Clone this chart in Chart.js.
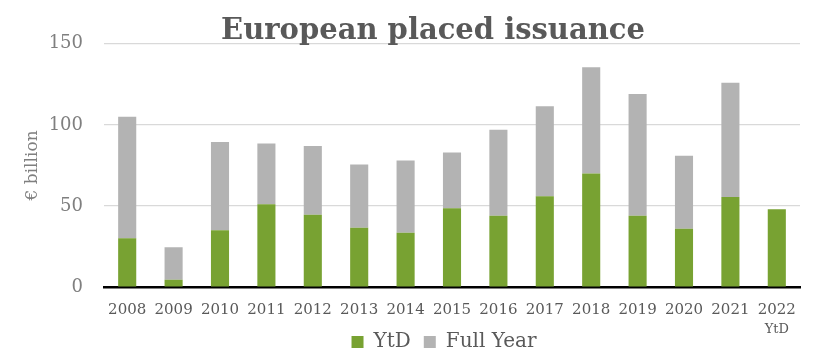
<!DOCTYPE html>
<html>
<head>
<meta charset="utf-8">
<script src="https://cdn.jsdelivr.net/npm/chart.js@4"></script>
<style>
  html, body { margin: 0; padding: 0; background: #fff; }
  #wrap { width: 824px; height: 363px; }
</style>
</head>
<body>
<div id="wrap"><canvas id="chart"></canvas></div>
<script>
const years = ["2008", "2009", "2010", "2011", "2012", "2013", "2014", "2015",
  "2016", "2017", "2018", "2019", "2020", "2021", "2022"];
const ytd = [30, 4.5, 35, 51, 44.5, 36.5, 33.5, 48.5, 44, 56, 70, 44, 36, 55.5, 48];
const fullYear = [105, 24.5, 89.5, 88.5, 87, 75.5, 78, 83, 97, 111.5, 135.5, 119, 81, 126, null];
const yTicks = [0, 50, 100, 150];
const lastNote = "YtD";

// grey part is the remainder of the full year above the YtD part
const rest = fullYear.map((v, i) => v == null ? null : v - ytd[i]);

const serif = "'DejaVu Serif', serif";

// the reference centres title and legend a bit right of the canvas centre,
// and puts a small "YtD" under the last year
const tweaks = {
  id: "tweaks",
  afterLayout(chart) {
    chart.titleBlock.left += 33;
    chart.titleBlock.right += 33;
    chart.legend.left += 44;
    chart.legend.right += 44;
  },
  afterDraw(chart) {
    const x = chart.scales.x.getPixelForValue(years.length - 1);
    const c = chart.ctx;
    c.save();
    c.font = "13px " + serif;
    c.fillStyle = "#595959";
    c.textAlign = "center";
    c.textBaseline = "middle";
    c.fillText(lastNote, x, 330);
    c.restore();
  }
};

const ctx = document.getElementById("chart").getContext("2d");
const chart = new Chart(ctx, {
  type: "bar",
  data: {
    labels: years,
    datasets: [{
      label: "YtD",
      data: ytd,
      backgroundColor: "#78A232",
      barPercentage: 0.78,
      categoryPercentage: 0.5
    }, {
      label: "Full Year",
      data: rest,
      backgroundColor: "#B3B3B3",
      barPercentage: 0.78,
      categoryPercentage: 0.5
    }]
  },
  plugins: [tweaks],
  options: {
    responsive: true,
    maintainAspectRatio: false,
    animation: false,
    layout: { padding: { left: 0, right: 24, top: 0, bottom: 1 } },
    plugins: {
      title: {
        display: true,
        text: "European placed issuance",
        color: "#595959",
        font: { family: serif, size: 29, weight: "bold" },
        padding: { top: 14, bottom: -5 }
      },
      legend: {
        position: "bottom",
        labels: {
          color: "#595959",
          font: { family: serif, size: 20 },
          boxWidth: 12,
          boxHeight: 12,
          padding: 13
        }
      },
      tooltip: { enabled: false }
    },
    scales: {
      x: {
        stacked: true,
        grid: { display: false, drawTicks: false },
        border: { color: "#000", width: 2.5 },
        afterFit: axis => { axis.height = 32; },
        ticks: {
          color: "#595959",
          font: { family: serif, size: 15 },
          maxRotation: 0,
          autoSkip: false,
          padding: 14
        }
      },
      y: {
        stacked: true,
        min: 0,
        max: 150,
        afterBuildTicks: axis => { axis.ticks = yTicks.map(v => ({ value: v })); },
        afterFit: axis => { axis.width = 104; },
        grid: { color: "#D9D9D9", lineWidth: 1.2, drawTicks: false },
        border: { display: false },
        ticks: {
          color: "#7F7F7F",
          font: { family: serif, size: 18 },
          padding: 21
        },
        title: {
          display: true,
          text: "€ billion",
          color: "#7F7F7F",
          font: { family: serif, size: 17 },
          padding: { top: 22, bottom: 0 }
        }
      }
    }
  }
});
</script>
</body>
</html>
